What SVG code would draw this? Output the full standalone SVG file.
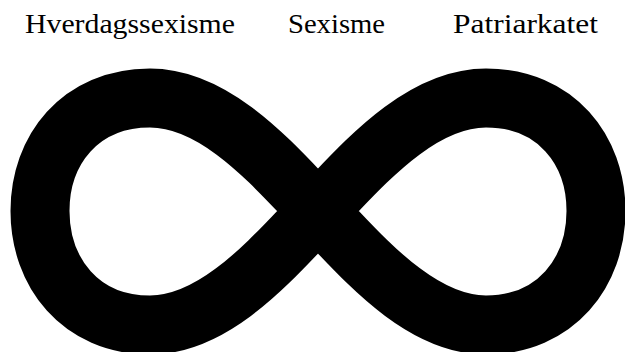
<svg xmlns="http://www.w3.org/2000/svg" width="625" height="352" viewBox="0 0 625 352">
<style>
.lbl{font-family:"Liberation Serif","DejaVu Serif",serif;font-size:28px;fill:#000}
.inf{fill:none;stroke:#000;stroke-width:59;stroke-linejoin:round}
</style>
<rect width="625" height="352" fill="#fff"/>
<g id="connectors">
<path class="inf" d="M318,211 C280,173 220,98 150,98 C80,98 40,150 40,211 C40,272 80,325 150,325 C220,325 280,249 318,211 C356,173 416,98 486,98 C556,98 596,150 596,211 C596,272 556,325 486,325 C416,325 356,249 318,211 Z"/>
</g>
<g id="hverdagssexisme"><text class="lbl" x="25" y="33" textLength="210" lengthAdjust="spacingAndGlyphs">Hverdagssexisme</text></g>
<g id="sexisme"><text class="lbl" x="288" y="33" textLength="97" lengthAdjust="spacingAndGlyphs">Sexisme</text></g>
<g id="patriarkatet"><text class="lbl" x="453" y="33" textLength="145" lengthAdjust="spacingAndGlyphs">Patriarkatet</text></g>
</svg>
